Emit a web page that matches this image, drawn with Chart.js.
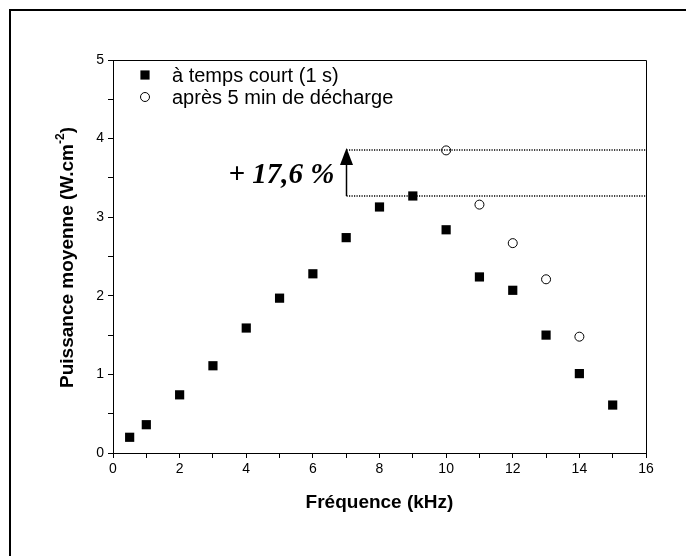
<!DOCTYPE html>
<html><head><meta charset="utf-8">
<script src="https://cdn.jsdelivr.net/npm/chart.js@4"></script>
<style>html,body{margin:0;padding:0;background:#fff}#wrap{width:686px;height:556px;position:relative}</style>
</head><body><div id="wrap"><canvas id="c" width="686" height="556"></canvas></div>
<script>
// ---- data ----
const freqShort = [0.5, 1, 2, 3, 4, 5, 6, 7, 8, 9, 10, 11, 12, 13, 14, 15];
const powerShort = [0.20, 0.36, 0.74, 1.11, 1.59, 1.97, 2.28, 2.74, 3.13, 3.27, 2.84, 2.24, 2.07, 1.50, 1.01, 0.61];
const freqLong = [10, 11, 12, 13, 14];
const powerLong = [3.85, 3.16, 2.67, 2.21, 1.48];
const seriesLabels = ['à temps court (1 s)', 'après 5 min de décharge'];
const xTitle = 'Fréquence (kHz)';
const yTitleMain = 'Puissance moyenne (W.cm';
const yTitleSup = '-2';
const yTitleEnd = ')';
const annotationText = '+ 17,6 %';
const annotationX = 7;
const xRange = [0, 16];
const yRange = [0, 5];

const toPts = (xs, ys) => xs.map((v, i) => ({x: v, y: ys[i]}));
const SANS = '"Liberation Sans", Arial, sans-serif';

const deco = {
  id: 'deco',
  afterDraw(chart) {
    const {ctx, chartArea: a, scales: {x, y}} = chart;
    ctx.save();
    // outer frame (left & top)
    ctx.strokeStyle = '#000';
    ctx.lineWidth = 2;
    ctx.beginPath(); ctx.moveTo(10, 560); ctx.lineTo(10, 10); ctx.lineTo(690, 10); ctx.stroke();
    // top & right of plot box
    ctx.lineWidth = 1;
    const L = Math.round(a.left) + 0.5, R = Math.round(a.right) + 0.5, T = Math.round(a.top) + 0.5, B = Math.round(a.bottom) + 0.5;
    ctx.beginPath(); ctx.moveTo(L, T); ctx.lineTo(R, T); ctx.lineTo(R, B); ctx.stroke();

    // annotation: dotted lines at the two maxima
    const hi = Math.max(...powerLong), lo = Math.max(...powerShort);
    const xa = Math.round(x.getPixelForValue(annotationX)) + 0.5;
    const yHi = Math.round(y.getPixelForValue(hi));
    const yLo = Math.round(y.getPixelForValue(lo));
    ctx.lineWidth = 1.5;
    ctx.setLineDash([1.2, 1.3]);
    ctx.beginPath();
    ctx.moveTo(xa, yHi); ctx.lineTo(R, yHi);
    ctx.moveTo(xa, yLo); ctx.lineTo(R, yLo);
    ctx.stroke();
    ctx.setLineDash([]);
    // arrow
    ctx.lineWidth = 1.5;
    ctx.beginPath(); ctx.moveTo(xa, yLo); ctx.lineTo(xa, yHi + 12); ctx.stroke();
    ctx.fillStyle = '#000';
    ctx.beginPath(); ctx.moveTo(xa, yHi - 2); ctx.lineTo(xa - 6.5, yHi + 15); ctx.lineTo(xa + 6.5, yHi + 15); ctx.closePath(); ctx.fill();
    // annotation text
    ctx.font = 'bold italic 29px "Liberation Serif", "Times New Roman", serif';
    ctx.textAlign = 'right'; ctx.textBaseline = 'alphabetic';
    ctx.fillText(annotationText, xa - 12, (yHi + yLo) / 2 + 10);

    // legend
    ctx.font = '20px ' + SANS;
    ctx.textAlign = 'left'; ctx.textBaseline = 'middle';
    chart.data.datasets.forEach((ds, i) => {
      const cy = 75 + i * 22, cx = 145;
      ctx.fillStyle = ds.backgroundColor; ctx.strokeStyle = ds.borderColor; ctx.lineWidth = ds.borderWidth;
      ctx.beginPath();
      if (ds.pointStyle === 'rect') { const s = Math.SQRT1_2 * ds.pointRadius; ctx.rect(cx - s, cy - s, 2 * s, 2 * s); ctx.fill(); }
      else { ctx.arc(cx, cy, ds.pointRadius, 0, Math.PI * 2); ctx.fill(); ctx.stroke(); }
      ctx.fillStyle = '#000';
      ctx.fillText(ds.label, 172, cy + 1);
    });

    // axis titles
    ctx.fillStyle = '#000';
    ctx.font = 'bold 19px ' + SANS;
    ctx.textAlign = 'center'; ctx.textBaseline = 'middle';
    ctx.fillText(xTitle, (a.left + a.right) / 2, 503);

    ctx.translate(67, (a.top + a.bottom) / 2 + 1);
    ctx.rotate(-Math.PI / 2);
    const fMain = 'bold 19px ' + SANS;
    const fSup = 'bold 12px ' + SANS;
    ctx.font = fMain; const w1 = ctx.measureText(yTitleMain).width, w3 = ctx.measureText(yTitleEnd).width;
    ctx.font = fSup; const w2 = ctx.measureText(yTitleSup).width;
    let sx = -(w1 + w2 + w3) / 2;
    ctx.textAlign = 'left'; ctx.textBaseline = 'alphabetic';
    ctx.font = fMain; ctx.fillText(yTitleMain, sx, 6); sx += w1;
    ctx.font = fSup; ctx.fillText(yTitleSup, sx, -3); sx += w2;
    ctx.font = fMain; ctx.fillText(yTitleEnd, sx, 6);
    ctx.restore();
  }
};

new Chart(document.getElementById('c'), {
  type: 'scatter',
  data: {
    datasets: [
      {label: seriesLabels[0], data: toPts(freqShort, powerShort), pointStyle: 'rect', pointRadius: 6.5, pointHoverRadius: 6.5,
       backgroundColor: '#000', borderColor: '#000', borderWidth: 0, showLine: false},
      {label: seriesLabels[1], data: toPts(freqLong, powerLong), pointStyle: 'circle', pointRadius: 4.5, pointHoverRadius: 4.5,
       backgroundColor: '#fff', borderColor: '#000', borderWidth: 1, showLine: false}
    ]
  },
  options: {
    responsive: false, animation: false, devicePixelRatio: 1,
    layout: {padding: {left: 0, right: 40, top: 60, bottom: 53}},
    plugins: {legend: {display: false}, tooltip: {enabled: false}},
    scales: {
      x: {
        type: 'linear', min: xRange[0], max: xRange[1],
        afterFit: s => { s.height = 50; },
        ticks: {stepSize: 1, autoSkip: false, maxRotation: 0, color: '#000', padding: 3,
                font: {family: SANS, size: 14},
                callback: v => (v % 2 === 0 ? v : '')},
        grid: {drawOnChartArea: false, drawTicks: true, tickLength: 5, color: '#000', tickColor: '#000'},
        border: {color: '#000', width: 1}
      },
      y: {
        min: yRange[0], max: yRange[1],
        afterFit: s => { s.width = 113; },
        ticks: {stepSize: 0.5, autoSkip: false, color: '#000', padding: 4,
                font: {family: SANS, size: 14},
                callback: v => (Number.isInteger(v) ? v : '')},
        grid: {drawOnChartArea: false, drawTicks: true, tickLength: 5, color: '#000', tickColor: '#000'},
        border: {color: '#000', width: 1}
      }
    }
  },
  plugins: [deco]
});
</script></body></html>
